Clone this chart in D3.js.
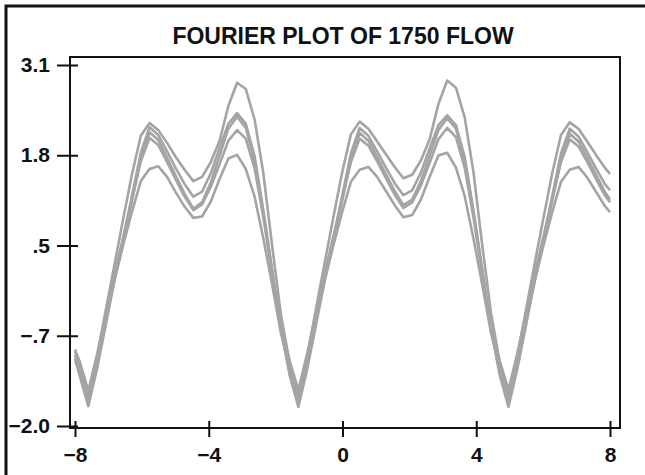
<!DOCTYPE html>
<html>
<head>
<meta charset="utf-8">
<script src="https://cdn.jsdelivr.net/npm/d3@7"></script>
<style>
body { margin: 0; background: #fff; }
svg { display: block; font-family: "Liberation Sans", Arial, sans-serif; font-weight: bold; }
</style>
</head>
<body>
<svg id="chart" width="645" height="475"></svg>
<script>
// sample positions along the curve (t)
var tValues = [-8, -7.865,
    -7.603, -7.341, -7.079, -6.818, -6.556, -6.294, -6.032, -5.770, -5.509, -5.247, -4.985, -4.723,
    -4.461, -4.200, -3.938, -3.676, -3.414, -3.153, -2.891, -2.629, -2.367, -2.105, -1.844, -1.582,
    -1.320, -1.058, -0.796, -0.535, -0.273, -0.011, 0.251, 0.513, 0.774, 1.036, 1.298, 1.560,
    1.822, 2.083, 2.345, 2.607, 2.869, 3.131, 3.393, 3.654, 3.916, 4.178, 4.440, 4.702,
    4.963, 5.225, 5.487, 5.749, 6.010, 6.272, 6.534, 6.796, 7.058, 7.319, 7.581, 7.843, 8];

// five flow curves
var flowA = [-0.92, -1.10,
    -1.56, -1.03, -0.36, 0.28, 0.93, 1.56, 2.10, 2.28, 2.18, 2.00, 1.80, 1.62,
    1.46, 1.52, 1.73, 2.03, 2.52, 2.85, 2.76, 2.33, 1.57, 0.55, -0.42, -1.10,
    -1.58, -1.05, -0.35, 0.30, 0.95, 1.58, 2.12, 2.30, 2.20, 2.02, 1.84, 1.66,
    1.50, 1.55, 1.75, 2.05, 2.55, 2.88, 2.78, 2.36, 1.59, 0.56, -0.40, -1.10,
    -1.58, -1.05, -0.36, 0.30, 0.94, 1.57, 2.11, 2.29, 2.20, 2.02, 1.83, 1.65, 1.56];
var flowB = [-1.05, -1.28,
    -1.72, -1.19, -0.57, 0.06, 0.66, 1.26, 1.86, 2.22, 2.11, 1.88, 1.64, 1.42,
    1.24, 1.31, 1.57, 1.93, 2.27, 2.42, 2.27, 1.81, 1.05, 0.21, -0.63, -1.28,
    -1.73, -1.20, -0.58, 0.05, 0.65, 1.25, 1.85, 2.21, 2.10, 1.88, 1.65, 1.43,
    1.26, 1.33, 1.58, 1.92, 2.25, 2.39, 2.25, 1.80, 1.05, 0.22, -0.62, -1.28,
    -1.73, -1.20, -0.58, 0.05, 0.65, 1.25, 1.85, 2.20, 2.09, 1.87, 1.64, 1.42, 1.33];
var flowC = [-1.00, -1.22,
    -1.64, -1.11, -0.49, 0.09, 0.63, 1.19, 1.78, 2.15, 2.04, 1.79, 1.53, 1.28,
    1.07, 1.16, 1.44, 1.82, 2.20, 2.37, 2.21, 1.75, 0.99, 0.19, -0.66, -1.22,
    -1.65, -1.12, -0.50, 0.08, 0.62, 1.18, 1.76, 2.14, 2.03, 1.80, 1.56, 1.32,
    1.12, 1.20, 1.46, 1.82, 2.18, 2.35, 2.20, 1.75, 1.00, 0.20, -0.65, -1.22,
    -1.66, -1.13, -0.50, 0.08, 0.62, 1.18, 1.76, 2.13, 2.02, 1.79, 1.55, 1.31, 1.20];
var flowD = [-0.95, -1.08,
    -1.50, -0.99, -0.41, 0.14, 0.67, 1.20, 1.74, 2.07, 1.97, 1.73, 1.48, 1.24,
    1.05, 1.13, 1.38, 1.70, 2.03, 2.18, 2.06, 1.64, 0.95, 0.15, -0.60, -1.08,
    -1.49, -0.98, -0.40, 0.15, 0.68, 1.20, 1.73, 2.06, 1.96, 1.74, 1.50, 1.27,
    1.08, 1.16, 1.40, 1.72, 2.05, 2.21, 2.08, 1.65, 0.95, 0.15, -0.60, -1.08,
    -1.49, -0.98, -0.40, 0.15, 0.68, 1.20, 1.73, 2.05, 1.95, 1.73, 1.49, 1.26, 1.16];
var flowE = [-1.10, -1.15,
    -1.53, -1.06, -0.49, 0.06, 0.56, 1.03, 1.46, 1.63, 1.67, 1.52, 1.30, 1.10,
    0.94, 0.96, 1.17, 1.49, 1.78, 1.83, 1.63, 1.24, 0.65, 0.00, -0.68, -1.15,
    -1.55, -1.08, -0.50, 0.05, 0.55, 1.02, 1.45, 1.62, 1.66, 1.52, 1.32, 1.12,
    0.95, 0.98, 1.20, 1.52, 1.82, 1.86, 1.65, 1.25, 0.65, 0.00, -0.68, -1.15,
    -1.55, -1.08, -0.50, 0.05, 0.55, 1.02, 1.45, 1.62, 1.66, 1.51, 1.31, 1.11, 1.02];

var yTickValues = [3.1, 1.825, 0.55, -0.725, -2.0];
var yTickLabels = ["3.1", "1.8", ".5", "\u2212.7", "\u22122.0"];
var xTickValues = [-8, -4, 0, 4, 8];
var xTickLabels = ["\u22128", "\u22124", "0", "4", "8"];
var title = "FOURIER PLOT OF 1750 FLOW";

var svg = d3.select('#chart');

var box = {left: 70, top: 57, right: 620, bottom: 428};
var x = d3.scaleLinear().domain([-8, 8]).range([75, 610]);
var y = d3.scaleLinear().domain([-2, 3.1]).range([426, 65]);

// outer frame (left and top edges only show in the picture)
svg.append('path')
    .attr('d', 'M6,475V6H645')
    .attr('fill', 'none')
    .attr('stroke', '#111')
    .attr('stroke-width', 3);

svg.append('text')
    .attr('x', 343)
    .attr('y', 43.5)
    .attr('text-anchor', 'middle')
    .style('font-size', '23px')
    .attr('fill', '#111')
    .text(title);

// curves
var line = d3.line()
    .x(function (d, i) { return x(tValues[i]); })
    .y(function (d) { return y(d); });

svg.append('g')
    .selectAll('path')
    .data([flowA, flowB, flowC, flowD, flowE])
    .enter().append('path')
    .attr('d', line)
    .attr('fill', 'none')
    .attr('stroke', '#a4a4a4')
    .attr('stroke-width', 2.6)
    .attr('stroke-linejoin', 'round');

svg.append('rect')
    .attr('x', box.left)
    .attr('y', box.top)
    .attr('width', box.right - box.left)
    .attr('height', box.bottom - box.top)
    .attr('fill', 'none')
    .attr('stroke', '#111')
    .attr('stroke-width', 2);

var yAxis = svg.append('g')
    .attr('transform', 'translate(' + box.left + ',0)')
    .call(d3.axisLeft(y)
        .tickValues(yTickValues)
        .tickFormat(function (d, i) { return yTickLabels[i]; })
        .tickSize(13)
        .tickPadding(7));
yAxis.select('.domain').remove();
yAxis.selectAll('.tick line').attr('x1', 8).attr('stroke', '#111').attr('stroke-width', 2);
yAxis.selectAll('.tick text')
    .attr('fill', '#111')
    .style('font-size', '21px')
    .style('font-family', '"Liberation Sans", Arial, sans-serif')
    .style('font-weight', 'bold');

var xAxis = svg.append('g')
    .attr('transform', 'translate(0,' + box.bottom + ')')
    .call(d3.axisBottom(x)
        .tickValues(xTickValues)
        .tickFormat(function (d, i) { return xTickLabels[i]; })
        .tickSize(9)
        .tickPadding(10));
xAxis.select('.domain').remove();
xAxis.selectAll('.tick line').attr('y1', -7).attr('stroke', '#111').attr('stroke-width', 2);
xAxis.selectAll('.tick text')
    .attr('fill', '#111')
    .style('font-size', '21px')
    .style('font-family', '"Liberation Sans", Arial, sans-serif')
    .style('font-weight', 'bold');
</script>
</body>
</html>
